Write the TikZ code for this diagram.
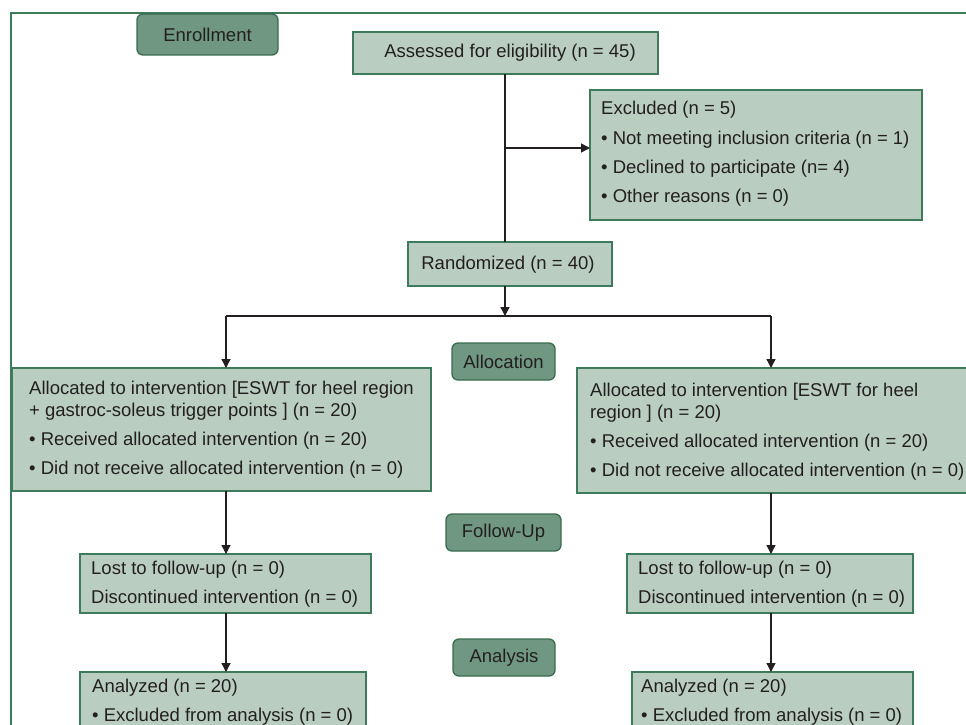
\documentclass[tikz,border=0pt]{standalone}
\usepackage{fontspec}
\setmainfont{Liberation Sans}
\usetikzlibrary{arrows.meta}
\definecolor{boxfill}{HTML}{B9CEC1}
\definecolor{boxline}{HTML}{3E7B5B}
\definecolor{stagefill}{HTML}{6F9781}
\definecolor{stageline}{HTML}{3A6B4F}
\definecolor{ink}{HTML}{231F20}
\begin{document}
\begin{tikzpicture}[x=1pt,y=-1pt,
  box/.style={draw=boxline, fill=boxfill, line width=1.3pt, inner sep=0pt, outer sep=0pt, anchor=north west, text=ink, font=\fontsize{18.5}{22}\selectfont},
  stage/.style={draw=stageline, fill=stagefill, rounded corners=6pt, line width=1.3pt, inner sep=0pt, outer sep=0pt, anchor=north west, text=ink, font=\fontsize{18.5}{22}\selectfont},
  txt/.style={anchor=west, inner sep=0pt, text=ink, font=\fontsize{18.5}{22}\selectfont},
  ctxt/.style={txt, anchor=center},
  conn/.style={line width=1.3pt, draw=ink},
  arr/.style={conn, -{Triangle[length=9pt,width=9pt]}}]
\useasboundingbox (0,0) rectangle (966,725);
\clip (0,0) rectangle (966,725);
% frame
\draw[boxline, line width=1.3pt] (970,13) -- (11,13) -- (11,730);
% stage labels
\node[stage, minimum width=141pt, minimum height=41pt] (enroll) at (137,14) {Enrollment};
\node[stage, minimum width=103pt, minimum height=37pt] (alloc) at (452,343) {Allocation};
\node[stage, minimum width=115pt, minimum height=37pt] (follow) at (446,514) {Follow-Up};
\node[stage, minimum width=102pt, minimum height=37pt] (analysis) at (453,639) {Analysis};
% boxes
\node[box, minimum width=305pt, minimum height=42pt] (assess) at (353,32) {};
\node[box, minimum width=332pt, minimum height=130pt] (excl) at (590,90) {};
\node[box, minimum width=204pt, minimum height=44pt] (rand) at (408,242) {};
\node[box, minimum width=419pt, minimum height=123pt] (la) at (12,368) {};
\node[box, minimum width=403pt, minimum height=125pt] (ra) at (577,368) {};
\node[box, minimum width=291pt, minimum height=59pt] (lf) at (80,554) {};
\node[box, minimum width=286pt, minimum height=59pt] (rf) at (627,554) {};
\node[box, minimum width=286pt, minimum height=70pt] (lan) at (80,672) {};
\node[box, minimum width=281pt, minimum height=70pt] (ran) at (632,672) {};
% texts
\node[ctxt] (a1) at (510,53) {Assessed for eligibility (n = 45)};
\node[ctxt] (r1) at (508,265) {Randomized (n = 40)};
\node[txt] (e1) at (601,110) {Excluded (n = 5)};
\node[txt] (e2) at (601,140) {• Not meeting inclusion criteria (n = 1)};
\node[txt] (e3) at (601,169) {• Declined to participate (n= 4)};
\node[txt] (e4) at (601,198) {• Other reasons (n = 0)};
\node[txt] (la1) at (29,390) {Allocated to intervention [ESWT for heel region};
\node[txt] (la2) at (29,412) {+ gastroc-soleus trigger points ] (n = 20)};
\node[txt] (la3) at (29,441) {• Received allocated intervention (n = 20)};
\node[txt] (la4) at (29,470) {• Did not receive allocated intervention (n = 0)};
\node[txt] (ra1) at (590,392) {Allocated to intervention [ESWT for heel};
\node[txt] (ra2) at (590,414) {region ] (n = 20)};
\node[txt] (ra3) at (590,443) {• Received allocated intervention (n = 20)};
\node[txt] (ra4) at (590,472) {• Did not receive allocated intervention (n = 0)};
\node[txt] (lf1) at (91,570) {Lost to follow-up (n = 0)};
\node[txt] (lf2) at (91,599) {Discontinued intervention (n = 0)};
\node[txt] (rf1) at (638,570) {Lost to follow-up (n = 0)};
\node[txt] (rf2) at (638,599) {Discontinued intervention (n = 0)};
\node[txt] (lan1) at (92,688) {Analyzed (n = 20)};
\node[txt] (lan2) at (92,717) {• Excluded from analysis (n = 0)};
\node[txt] (ran1) at (641,688) {Analyzed (n = 20)};
\node[txt] (ran2) at (641,717) {• Excluded from analysis (n = 0)};
% connectors
\coordinate (trunk) at (505,74);
\coordinate (br) at (505,148);
\coordinate (split) at (505,316);
\coordinate (L) at (226,316);
\coordinate (R) at (771,316);
\draw[conn] (trunk) -- (trunk |- rand.north);
\draw[arr] (br) -- (br -| excl.west);
\draw[arr] (split |- rand.south) -- (split);
\draw[conn] (L) -- (R);
\draw[arr] (L) -- (L |- la.north);
\draw[arr] (R) -- (R |- ra.north);
\draw[arr] (L |- la.south) -- (L |- lf.north);
\draw[arr] (R |- ra.south) -- (R |- rf.north);
\draw[arr] (L |- lf.south) -- (L |- lan.north);
\draw[arr] (R |- rf.south) -- (R |- ran.north);
\end{tikzpicture}
\end{document}
